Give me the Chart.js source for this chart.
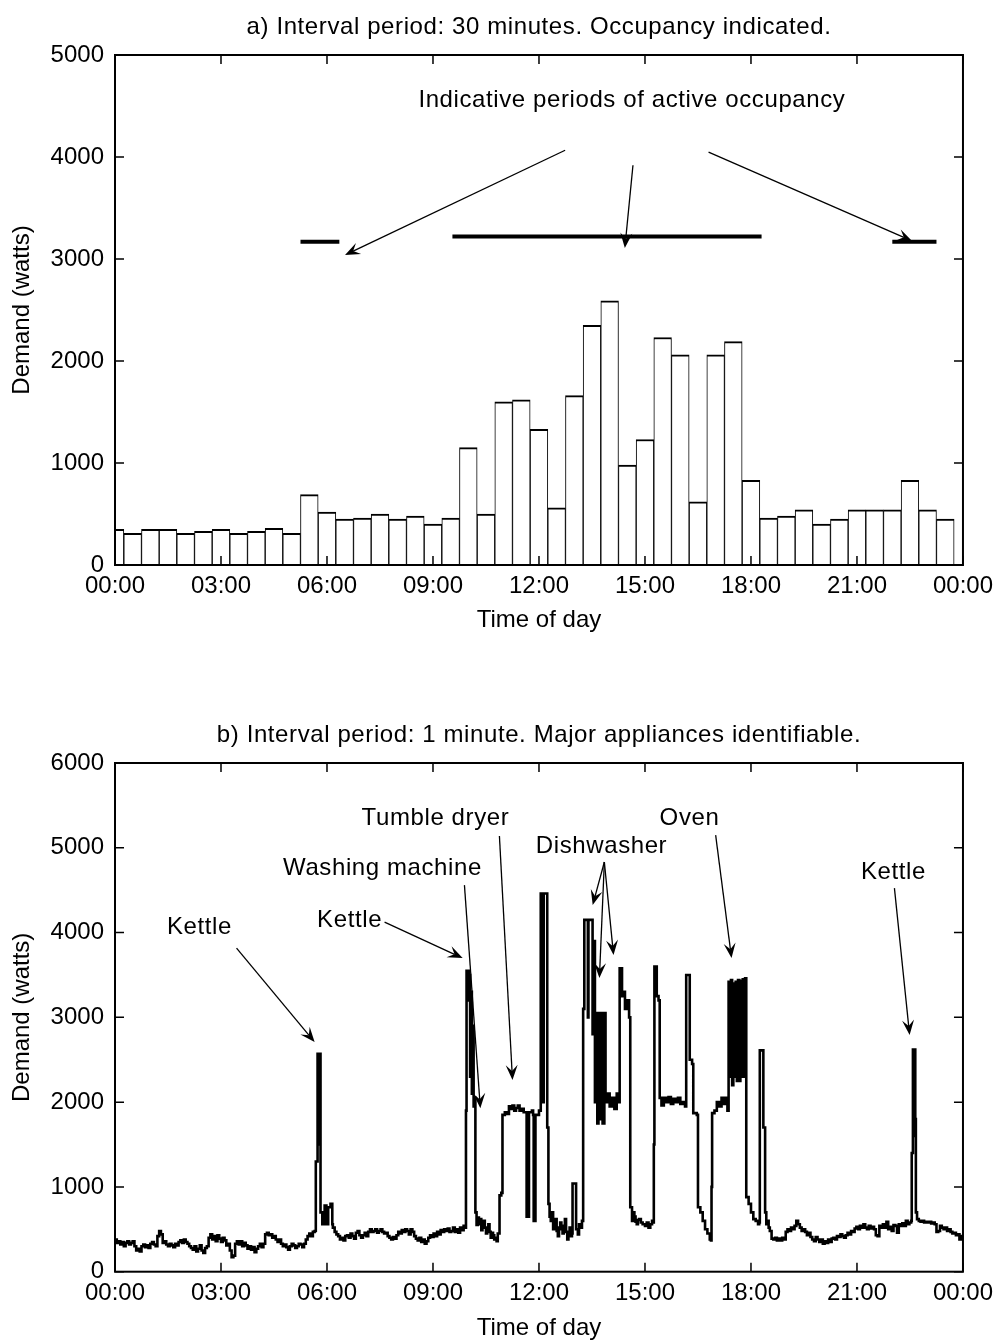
<!DOCTYPE html>
<html>
<head>
<meta charset="utf-8">
<script src="https://cdn.jsdelivr.net/npm/chart.js@4.4.1/dist/chart.umd.min.js"></script>
<style>
  html, body { margin: 0; padding: 0; background: #fff; }
  #wrap { position: relative; width: 1000px; height: 1343px; }
  canvas { position: absolute; left: 0; }
  #chartA { top: 0; }
  #chartB { top: 660px; }
</style>
</head>
<body>
<div id="wrap">
  <canvas id="chartA" width="1000" height="660" style="width:1000px;height:660px"></canvas>
  <canvas id="chartB" width="1000" height="683" style="width:1000px;height:683px"></canvas>
</div>
<script>
// ---- data ----
const hourTickLabels = ["00:00", "03:00", "06:00", "09:00", "12:00", "15:00", "18:00", "21:00", "00:00"];

// a) half-hour averages, bar centred on its interval start (hours)
const halfHourTimes = [
  0, 0.5, 1, 1.5, 2, 2.5, 3, 3.5, 4, 4.5, 5, 5.5,
  6, 6.5, 7, 7.5, 8, 8.5, 9, 9.5, 10, 10.5, 11, 11.5,
  12, 12.5, 13, 13.5, 14, 14.5, 15, 15.5, 16, 16.5, 17, 17.5,
  18, 18.5, 19, 19.5, 20, 20.5, 21, 21.5, 22, 22.5, 23, 23.5
];
const demand30min = [
  350, 310, 350, 350, 310, 330, 350, 310, 330, 360, 310, 690,
  520, 450, 460, 500, 450, 480, 400, 460, 1150, 500, 1600, 1620,
  1330, 560, 1660, 2350, 2590, 980, 1230, 2230, 2060, 620, 2060, 2190,
  830, 460, 480, 540, 400, 450, 540, 540, 540, 830, 540, 450
];

// occupancy bars (hours, watts)
const occupancyStart = [5.25, 9.55, 22.0];
const occupancyEnd = [6.35, 18.3, 23.25];
const occupancyLevel = [3170, 3220, 3170];

// b) one-minute readings as [minute of day, watts], value held until the next reading
const overnightReadings = [
  [0, 380], [3, 340], [6, 360], [9, 320], [12, 350], [15, 300], [18, 340], [21, 360], [24, 320], [27, 340],
  [30, 360], [33, 300], [36, 250], [39, 270], [42, 240], [45, 300], [48, 320], [51, 290], [54, 310], [57, 280],
  [60, 330], [63, 350], [66, 320], [69, 300], [72, 420], [75, 480], [78, 440], [81, 340], [84, 360], [87, 320],
  [90, 300], [93, 330], [96, 310], [99, 290], [102, 330], [105, 310], [108, 350], [111, 370], [114, 340], [117, 380],
  [120, 350], [123, 330], [126, 300], [129, 280], [132, 260], [135, 300], [138, 240], [141, 270], [144, 310], [147, 250],
  [150, 220], [153, 280], [156, 300], [159, 400], [162, 440], [165, 380], [168, 420], [171, 360], [174, 430], [177, 390],
  [180, 350], [183, 400], [186, 370], [189, 310], [192, 330], [195, 250], [198, 170], [201, 190], [204, 330], [207, 360],
  [210, 320], [213, 360], [216, 300], [219, 340], [222, 310], [225, 270], [228, 300], [231, 260], [234, 290], [237, 230],
  [240, 270], [243, 300], [246, 330], [249, 290], [252, 330], [255, 440], [258, 460], [261, 430], [264, 440], [267, 400],
  [270, 420], [273, 380], [276, 350], [279, 380], [282, 330], [285, 300], [288, 320], [291, 290], [294, 260], [297, 300],
  [300, 330], [303, 310], [306, 280], [309, 300], [312, 330], [315, 320], [318, 290], [321, 330], [324, 380], [327, 420],
  [330, 450], [333, 420], [336, 470], [339, 480]
];
const morningReadings = [
  [341, 1300], [343, 1300], [344, 2570], [346, 1500], [347, 2570], [349, 700], [352, 560], [356, 780], [359, 560], [362, 760],
  [366, 800], [369, 560], [370, 520], [373, 470], [376, 440], [379, 420], [382, 380], [385, 400], [388, 370], [391, 420],
  [394, 430], [397, 400], [400, 450], [403, 420], [406, 390], [409, 460], [412, 480], [415, 430], [418, 400], [421, 430],
  [424, 460], [427, 420], [430, 470], [433, 500], [436, 470], [439, 480], [442, 500], [445, 460], [448, 480], [451, 500],
  [454, 470], [457, 450], [460, 460], [463, 420], [466, 400], [469, 380], [472, 410], [475, 390], [478, 430], [481, 470],
  [484, 450], [487, 490], [490, 470], [493, 500], [496, 480], [499, 440], [502, 500], [505, 470], [508, 420], [511, 390],
  [514, 370], [517, 400], [520, 350], [523, 380], [526, 330], [529, 360], [532, 400], [535, 430], [538, 410], [541, 450],
  [544, 420], [547, 470], [550, 440], [553, 490], [556, 470], [559, 500], [562, 480], [565, 510], [568, 470], [571, 480],
  [574, 520], [577, 470], [580, 500], [583, 460], [586, 520], [589, 490], [592, 540], [594, 520]
];
const daytimeReadings = [
  [596, 1900], [597, 3550], [601, 3200], [602, 3500], [603, 2300], [604, 3300], [606, 2100], [607, 2900], [609, 1950], [611, 2050],
  [612, 700], [614, 550], [616, 640], [618, 560], [620, 620], [622, 490], [624, 560], [626, 600], [628, 520], [630, 450],
  [632, 520], [634, 560], [636, 470], [638, 400], [640, 460], [642, 430], [644, 380], [646, 400], [648, 360], [650, 450],
  [653, 900], [656, 930], [658, 1850], [662, 1880], [666, 1860], [669, 1950], [672, 1920], [675, 1960], [678, 1900], [681, 1930],
  [684, 1960], [687, 1900], [690, 1920], [694, 1880], [698, 1880], [699, 650], [702, 650], [703, 1880], [708, 1900], [710, 1850],
  [711, 600], [713, 600], [714, 1850], [720, 1900], [722, 1900], [723, 4460], [727, 2000], [728, 4460], [732, 4460], [734, 1700],
  [736, 800], [738, 650], [740, 600], [742, 700], [744, 500], [746, 560], [748, 620], [750, 480], [752, 420], [754, 520],
  [756, 580], [758, 500], [760, 450], [762, 540], [764, 620], [766, 470], [768, 380], [770, 460], [772, 520], [774, 420],
  [776, 450], [777, 1040], [782, 1040], [783, 500], [786, 440], [788, 560], [790, 520], [793, 600], [795, 3100], [797, 4150],
  [803, 3000], [804, 4150], [810, 4150], [811, 2800], [813, 3900], [815, 2000], [817, 3050], [819, 1750], [821, 3050], [823, 1800],
  [826, 3050], [828, 1750], [831, 3050], [833, 2000], [836, 2100], [840, 1950], [844, 2050], [848, 1920], [852, 2100], [856, 2000],
  [857, 3580], [860, 3580], [861, 3250], [864, 3300], [866, 3100], [870, 3200], [873, 3000], [875, 760], [878, 600], [880, 700],
  [882, 650], [884, 590], [886, 560], [888, 610], [890, 620], [893, 580], [896, 560], [900, 540], [903, 580], [906, 520],
  [909, 560], [912, 600], [914, 580], [915, 1500], [916, 3600], [919, 3600], [920, 3250], [923, 3200], [925, 2050], [928, 1960],
  [932, 2050], [936, 2000], [940, 2060], [944, 1980], [948, 2040], [952, 2000], [956, 2050], [960, 1980], [964, 2000], [968, 1950],
  [970, 3500], [974, 3500], [976, 2500], [980, 2450], [982, 1870], [988, 1850], [990, 760], [994, 700], [998, 600], [1002, 500],
  [1006, 450], [1010, 380], [1012, 370], [1013, 1000], [1014, 1870], [1018, 1900], [1022, 2000], [1026, 1950], [1030, 2050], [1034, 1980],
  [1038, 2050], [1040, 1900], [1042, 3420], [1044, 2300], [1046, 3440], [1048, 2200], [1050, 3400], [1052, 2300], [1054, 3420], [1056, 2250],
  [1058, 3440], [1060, 2250], [1062, 3430], [1064, 2300], [1066, 3450], [1068, 2300], [1070, 3460], [1072, 880], [1076, 800], [1080, 700],
  [1084, 620], [1088, 600], [1092, 560], [1094, 580], [1095, 2610], [1100, 2610], [1101, 1700], [1103, 1700]
];
const eveningReadings = [
  [1104, 700], [1106, 560], [1108, 600], [1110, 520], [1112, 480], [1115, 390], [1118, 380], [1121, 400], [1124, 370], [1127, 390],
  [1130, 370], [1133, 400], [1136, 380], [1139, 470], [1142, 500], [1145, 480], [1148, 520], [1151, 500], [1154, 540], [1157, 600],
  [1160, 560], [1163, 520], [1166, 480], [1169, 500], [1172, 470], [1175, 430], [1178, 460], [1181, 410], [1184, 380], [1187, 360],
  [1190, 410], [1193, 380], [1196, 350], [1199, 380], [1202, 330], [1205, 360], [1208, 340], [1211, 380], [1214, 350], [1217, 390],
  [1220, 400], [1223, 380], [1226, 420], [1229, 410], [1232, 440], [1235, 420], [1238, 400], [1241, 430], [1244, 460], [1247, 440],
  [1250, 480], [1253, 470], [1256, 510], [1259, 530], [1262, 500], [1265, 540], [1268, 520], [1271, 560], [1274, 520], [1277, 500],
  [1280, 540], [1283, 510], [1286, 530], [1289, 500], [1292, 430], [1295, 420], [1298, 540], [1301, 520], [1304, 560], [1307, 520],
  [1310, 590], [1313, 500], [1316, 530], [1319, 480], [1322, 550], [1325, 540], [1328, 460], [1331, 560], [1334, 540], [1337, 570],
  [1340, 540], [1343, 600], [1346, 560], [1349, 580], [1352, 600], [1353, 1400], [1355, 2620], [1357, 1600], [1358, 2620], [1359, 1800],
  [1360, 700], [1362, 620], [1365, 600], [1368, 590], [1371, 600], [1374, 580], [1377, 590], [1380, 580], [1383, 590], [1386, 570],
  [1389, 580], [1392, 560], [1395, 470], [1398, 480], [1401, 540], [1404, 520], [1407, 500], [1410, 520], [1413, 480], [1416, 500],
  [1419, 470], [1422, 450], [1425, 460], [1428, 430], [1431, 440], [1434, 380], [1437, 420], [1440, 400]
];

// annotations (hours, watts)
const chartTitles = [
  "a) Interval period: 30 minutes. Occupancy indicated.",
  "b) Interval period: 1 minute. Major appliances identifiable."
];
const occupancyNote = "Indicative periods of active occupancy";
const occupancyNoteAt = [14.63, 4552];
const occupancyArrows = [
  [12.74, 4066, 6.51, 3040],
  [14.66, 3919, 14.43, 3108],
  [16.80, 4047, 22.56, 3177]
];

const applianceNames = ["Kettle", "Kettle", "Washing machine", "Tumble dryer", "Dishwasher", "Oven", "Kettle"];
const applianceNoteHours = [2.39, 6.64, 7.57, 9.07, 13.77, 16.26, 22.03];
const applianceNoteWatts = [4063, 4146, 4761, 5350, 5020, 5350, 4712];
const applianceArrows = [
  [3.44, 3817, 5.65, 2708],
  [7.63, 4123, 9.84, 3699],
  [9.89, 4560, 10.34, 1928],
  [10.88, 5138, 11.25, 2261],
  [13.85, 4832, 13.52, 4325],
  [13.85, 4832, 14.11, 3735],
  [13.85, 4832, 13.71, 3464],
  [17.00, 5149, 17.45, 3699],
  [22.06, 4524, 22.49, 2791]
];

// ---- drawing ----
const FONT = '"Liberation Sans", Arial, sans-serif';
const TICK_LEN = 9;
Chart.defaults.font.family = FONT;
Chart.defaults.font.size = 24;
Chart.defaults.color = "#000";

function drawArrow(ctx, x0, y0, x1, y1) {
  const len = Math.hypot(x1 - x0, y1 - y0);
  const ux = (x1 - x0) / len, uy = (y1 - y0) / len;
  const nx = -uy, ny = ux;
  const L = 15, W = 6;
  const notchX = x1 - ux * L * 0.6, notchY = y1 - uy * L * 0.6;
  ctx.beginPath();
  ctx.moveTo(x0, y0);
  ctx.lineTo(notchX, notchY);
  ctx.lineWidth = 1.3;
  ctx.stroke();
  ctx.beginPath();
  ctx.moveTo(x1, y1);
  ctx.lineTo(x1 - ux * L + nx * W, y1 - uy * L + ny * W);
  ctx.lineTo(notchX, notchY);
  ctx.lineTo(x1 - ux * L - nx * W, y1 - uy * L - ny * W);
  ctx.closePath();
  ctx.fill();
}

// MATLAB style box: frame on all sides, inward ticks, title over the plot, text callouts
const boxAndNotes = {
  id: "boxAndNotes",
  afterDraw(chart, args, opts) {
    const { ctx, chartArea: a, scales: { x, y } } = chart;
    ctx.save();
    ctx.strokeStyle = "#000";
    ctx.fillStyle = "#000";
    ctx.lineWidth = 1.5;
    ctx.beginPath();
    for (const t of x.ticks) {
      const px = x.getPixelForValue(t.value);
      ctx.moveTo(px, a.bottom); ctx.lineTo(px, a.bottom - TICK_LEN);
      ctx.moveTo(px, a.top); ctx.lineTo(px, a.top + TICK_LEN);
    }
    for (const t of y.ticks) {
      const py = y.getPixelForValue(t.value);
      ctx.moveTo(a.left, py); ctx.lineTo(a.left + TICK_LEN, py);
      ctx.moveTo(a.right, py); ctx.lineTo(a.right - TICK_LEN, py);
    }
    ctx.stroke();
    ctx.lineWidth = 2;
    ctx.strokeRect(a.left, a.top, a.right - a.left, a.bottom - a.top);

    ctx.font = "24px " + FONT;
    ctx.letterSpacing = "0.6px";
    ctx.textAlign = "center";
    ctx.textBaseline = "middle";
    if (opts.title) ctx.fillText(opts.title, (a.left + a.right) / 2, a.top - 28);
    (opts.labels || []).forEach(l => {
      ctx.fillText(l.text, x.getPixelForValue(l.x), y.getPixelForValue(l.y));
    });
    (opts.arrows || []).forEach(ar => {
      drawArrow(ctx, x.getPixelForValue(ar[0]), y.getPixelForValue(ar[1]),
        x.getPixelForValue(ar[2]), y.getPixelForValue(ar[3]));
    });
    ctx.restore();
  }
};

function axes(yMax, xTitlePad, xScaleHeight) {
  return {
    x: {
      type: "linear", min: 0, max: 24, offset: false,
      grid: { display: false, drawTicks: false, offset: false },
      border: { display: false },
      ticks: {
        stepSize: 3, autoSkip: false, maxRotation: 0, padding: 7,
        callback: (v, i) => hourTickLabels[i]
      },
      title: { display: true, text: "Time of day", padding: { top: 0, bottom: xTitlePad } },
      afterFit: s => { s.height = xScaleHeight; }
    },
    y: {
      min: 0, max: yMax,
      grid: { display: false, drawTicks: false },
      border: { display: false },
      ticks: { stepSize: 1000, padding: 11, callback: v => String(v) },
      title: { display: true, text: "Demand (watts)", padding: { top: 8, bottom: 0 } },
      afterFit: s => { s.width = 115; }
    }
  };
}

const occupancySets = occupancyStart.map((s, i) => ({
  type: "line",
  data: [{ x: s, y: occupancyLevel[i] }, { x: occupancyEnd[i], y: occupancyLevel[i] }],
  borderColor: "#000",
  borderWidth: 4,
  pointRadius: 0
}));

new Chart(document.getElementById("chartA"), {
  type: "bar",
  data: {
    datasets: [
      {
        type: "bar",
        data: halfHourTimes.map((t, i) => ({ x: t, y: demand30min[i] })),
        backgroundColor: "#fff",
        borderColor: "#000",
        borderWidth: { top: 2, left: 1, right: 1, bottom: 0 },
        borderSkipped: false,
        barPercentage: 1,
        categoryPercentage: 1,
        clip: 0
      },
      ...occupancySets
    ]
  },
  options: {
    responsive: false,
    animation: false,
    layout: { padding: { left: 0, right: 37, top: 55, bottom: 0 } },
    scales: axes(5000, 25.6, 95),
    plugins: {
      legend: { display: false },
      tooltip: { enabled: false },
      title: { display: false },
      boxAndNotes: {
        title: chartTitles[0],
        labels: [{ text: occupancyNote, x: occupancyNoteAt[0], y: occupancyNoteAt[1] }],
        arrows: occupancyArrows
      }
    }
  },
  plugins: [boxAndNotes]
});

const minuteReadings = [...overnightReadings, ...morningReadings, ...daytimeReadings, ...eveningReadings];

new Chart(document.getElementById("chartB"), {
  type: "line",
  data: {
    datasets: [{
      data: minuteReadings.map(r => ({ x: r[0] / 60, y: r[1] })),
      borderColor: "#000",
      borderWidth: 2.6,
      borderJoinStyle: "miter",
      stepped: true,
      pointRadius: 0,
      tension: 0
    }]
  },
  options: {
    responsive: false,
    animation: false,
    layout: { padding: { left: 0, right: 37, top: 103, bottom: 0 } },
    scales: axes(6000, 0.6, 71.3),
    plugins: {
      legend: { display: false },
      tooltip: { enabled: false },
      title: { display: false },
      boxAndNotes: {
        title: chartTitles[1],
        labels: applianceNames.map((n, i) => ({ text: n, x: applianceNoteHours[i], y: applianceNoteWatts[i] })),
        arrows: applianceArrows
      }
    }
  },
  plugins: [boxAndNotes]
});
</script>
</body>
</html>
